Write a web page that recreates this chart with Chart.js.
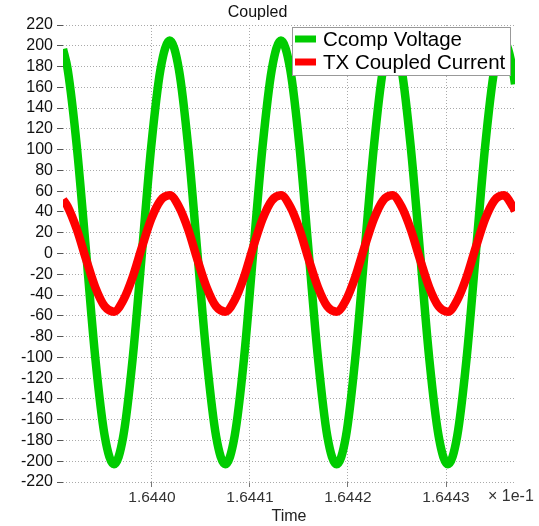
<!DOCTYPE html>
<html lang="en">

<head>
    <meta charset="UTF-8">
    <title>Coupled</title>
    <script src="https://cdn.jsdelivr.net/npm/chart.js"></script>
    <style>
        body { margin: 0; background: #fff; }
    </style>
</head>

<body>
    <canvas id="chart" width="539" height="526"></canvas>

    <script>
        // time axis values (x 1e-1 s)
        var times = [1.6439092, 1.6439140, 1.6439234, 1.6439329, 1.6439423, 1.6439518, 1.6439612, 1.6439707,
            1.6439802, 1.6439897, 1.6439991, 1.6440086, 1.6440181, 1.6440275, 1.6440370, 1.6440464, 1.6440559,
            1.6440654, 1.6440748, 1.6440843, 1.6440938, 1.6441032, 1.6441127, 1.6441222, 1.6441316, 1.6441411,
            1.6441506, 1.6441600, 1.6441695, 1.6441789, 1.6441884, 1.6441979, 1.6442073, 1.6442168, 1.6442263,
            1.6442357, 1.6442452, 1.6442547, 1.6442641, 1.6442736, 1.6442830, 1.6442925, 1.6443020, 1.6443114,
            1.6443209, 1.6443304, 1.6443398, 1.6443493, 1.6443588, 1.6443682, 1.6443704];

        var ccompVoltage = [197,
            177, 102, 0, -102, -176, -203, -176, -102, 0, 102, 177,
            205, 177, 102, 0, -102, -176, -203, -176, -102, 0, 102, 177,
            205, 177, 102, 0, -102, -176, -203, -176, -102, 0, 102, 177,
            205, 177, 102, 0, -102, -176, -203, -176, -102, 0, 102, 177,
            205, 177, 163];

        var txCurrent = [52,
            45, 23, -6, -33, -51, -56, -45, -23, 6, 33, 51,
            56, 45, 23, -6, -33, -51, -56, -45, -23, 6, 33, 51,
            56, 45, 23, -6, -33, -51, -56, -45, -23, 6, 33, 51,
            56, 45, 23, -6, -33, -51, -56, -45, -23, 6, 33, 51,
            56, 45, 41];

        var seriesNames = ["Ccomp Voltage", "TX Coupled Current"];
        var xTicks = [1.6440, 1.6441, 1.6442, 1.6443];

        var FONT = "'Liberation Sans', Arial, sans-serif";

        // legend box drawn inside the plot, top right
        var boxLegend = {
            id: "boxLegend",
            afterDraw: function (chart) {
                var ctx = chart.ctx;
                ctx.save();
                ctx.fillStyle = "#fff";
                ctx.fillRect(292.5, 27.5, 218, 48);
                ctx.strokeStyle = "#999";
                ctx.lineWidth = 1;
                ctx.strokeRect(292.5, 27.5, 218, 48);
                chart.data.datasets.forEach(function (ds, i) {
                    ctx.fillStyle = ds.borderColor;
                    ctx.fillRect(295, 35.5 + 23 * i, 21, 7);
                    ctx.fillStyle = "#000";
                    ctx.font = "20.5px " + FONT;
                    ctx.textBaseline = "middle";
                    ctx.textAlign = "left";
                    ctx.fillText(ds.label, 323, 40 + 23 * i);
                });
                // axis multiplier
                ctx.fillStyle = "#333";
                ctx.font = "16px " + FONT;
                ctx.fillText("\u00d7 1e-1", 488, 497);
                ctx.restore();
            }
        };

        var ctx = document.getElementById("chart").getContext("2d");
        new Chart(ctx, {
            type: "line",
            plugins: [boxLegend],
            data: {
                datasets: [
                    {
                        label: seriesNames[0],
                        data: times.map(function (t, i) { return { x: t, y: ccompVoltage[i] }; }),
                        borderColor: "rgb(0, 204, 0)",
                        borderWidth: 8.5,
                        pointRadius: 0,
                        cubicInterpolationMode: "monotone",
                        order: 2
                    },
                    {
                        label: seriesNames[1],
                        data: times.map(function (t, i) { return { x: t, y: txCurrent[i] }; }),
                        borderColor: "rgb(255, 0, 0)",
                        borderWidth: 8.5,
                        pointRadius: 0,
                        cubicInterpolationMode: "monotone",
                        order: 1
                    }
                ]
            },
            options: {
                responsive: false,
                animation: false,
                layout: { padding: { left: 0, right: 24, top: 0, bottom: 0 } },
                plugins: {
                    legend: { display: false },
                    tooltip: { enabled: false },
                    title: {
                        display: true,
                        text: "Coupled",
                        color: "#111",
                        font: { family: FONT, size: 16, weight: "normal" },
                        padding: { top: 3.4, bottom: 2.4 }
                    }
                },
                scales: {
                    x: {
                        type: "linear",
                        min: times[0],
                        max: times[times.length - 1],
                        afterFit: function (scale) { scale.height = 44; },
                        afterBuildTicks: function (scale) {
                            scale.ticks = xTicks.map(function (v) { return { value: v }; });
                        },
                        ticks: {
                            color: "#333",
                            padding: 1,
                            maxRotation: 0,
                            font: { family: FONT, size: 15.5 },
                            callback: function (v) { return v.toFixed(4); }
                        },
                        grid: {
                            color: "#aaa",
                            borderDash: [1, 2],
                            tickLength: 5,
                            tickColor: "#777",
                            tickBorderDash: []
                        },
                        border: { display: false, dash: [1, 2] },
                        title: {
                            display: true,
                            text: "Time",
                            color: "#222",
                            font: { family: FONT, size: 16 },
                            padding: { top: 0, bottom: 0 }
                        }
                    },
                    y: {
                        min: -220,
                        max: 220,
                        afterFit: function (scale) { scale.width = 63; },
                        ticks: {
                            stepSize: 20,
                            autoSkip: false,
                            color: "#111",
                            padding: 4,
                            font: { family: FONT, size: 16 }
                        },
                        grid: {
                            color: "#aaa",
                            tickLength: 6,
                            tickColor: "#555",
                            tickBorderDash: []
                        },
                        border: { display: false, dash: [1, 2] }
                    }
                }
            }
        });
    </script>
</body>

</html>
